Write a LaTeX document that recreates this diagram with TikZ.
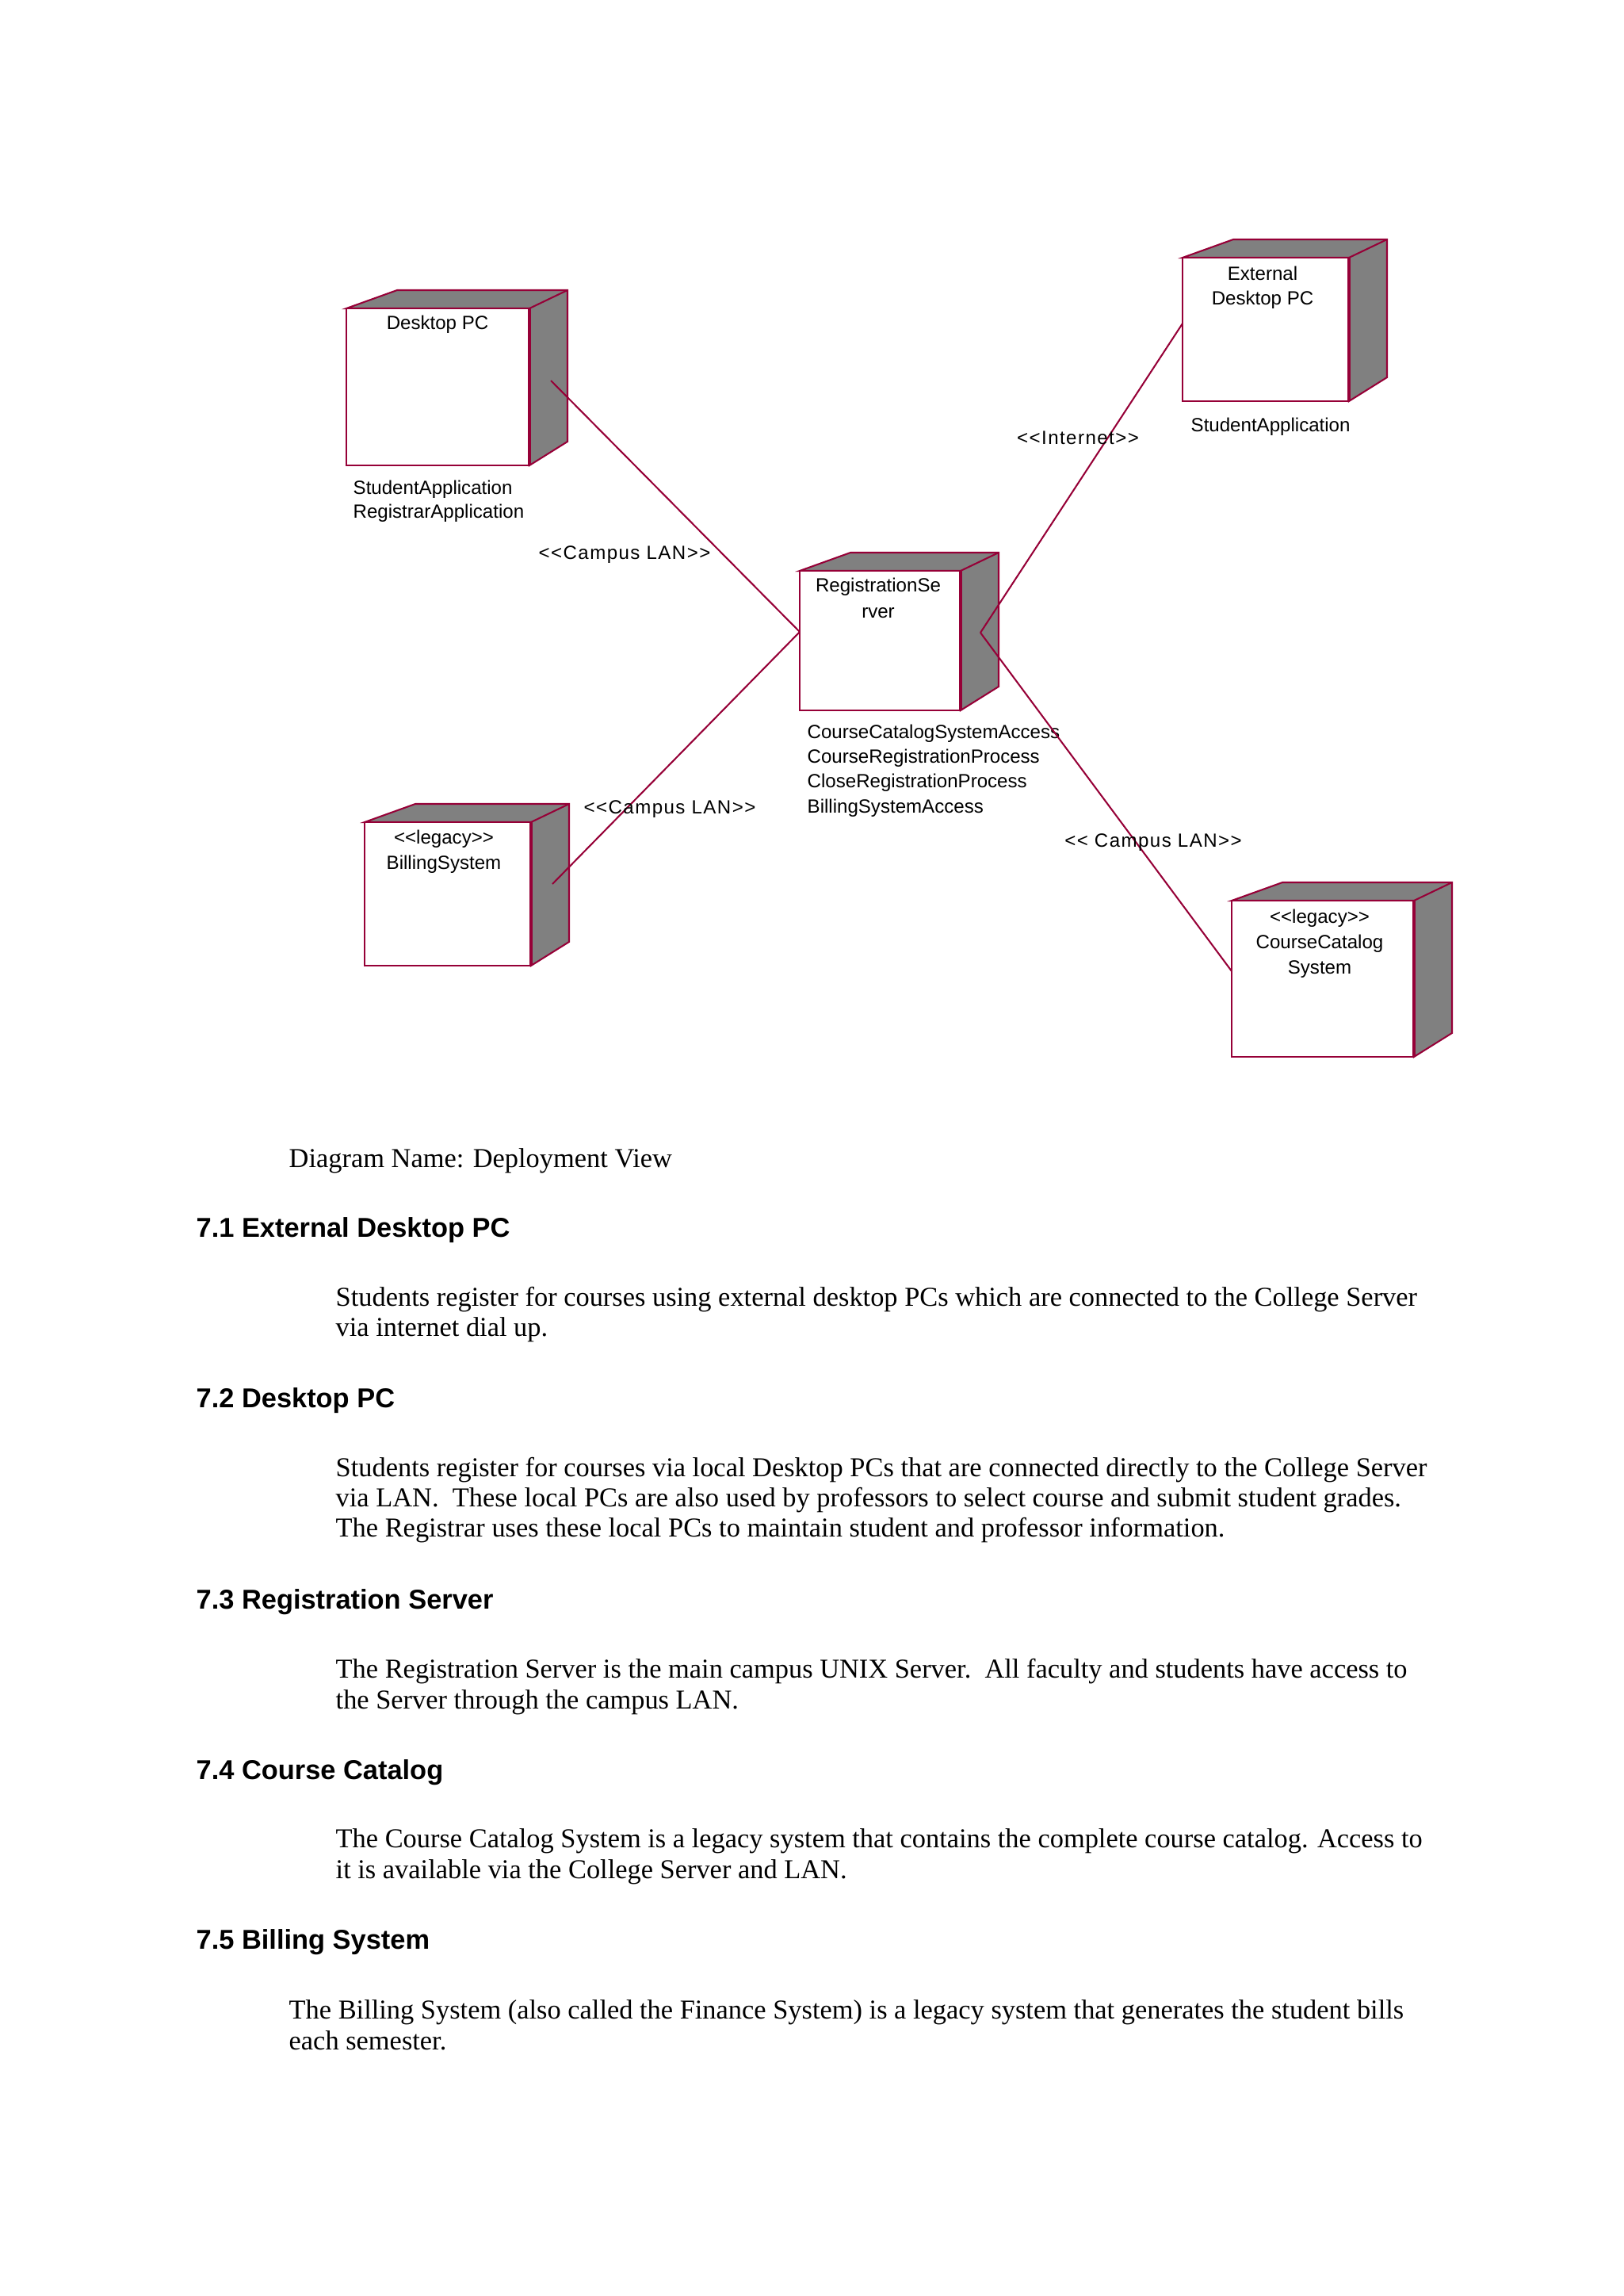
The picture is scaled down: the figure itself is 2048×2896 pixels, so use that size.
\documentclass[tikz,border=0pt]{standalone}
\usepackage{fontspec}
\setmainfont{Liberation Serif}
\newfontfamily\diagfont{Liberation Sans}
\newfontfamily\diagwide[LetterSpace=6]{Liberation Sans}
\newfontfamily\headfont{Liberation Sans}
\usetikzlibrary{fit,calc}
\definecolor{crim}{RGB}{150,0,55}
\definecolor{cubegray}{RGB}{128,128,128}
\newcommand\cubenode[5]{%
  \node[fit={(#2,#3) (#4,#5)}, inner sep=0pt, outer sep=0pt] (#1) {};
  \filldraw[fill=cubegray, draw=crim, line width=0.6pt]
    (#1.north west) -- ++(64,-23) -- ($(#1.north east)+(48,-23)$) -- ($(#1.south east)+(48,-30)$) -- (#1.south east) -- (#1.north east) -- cycle;
  \draw[crim, line width=0.6pt] (#1.north east) -- ++(48,-23);
  \filldraw[fill=white, draw=crim, line width=0.6pt] (#1.north west) rectangle (#1.south east);
  \draw[crim, line width=1.2pt] (#1.north east) -- (#1.south east);
}
\begin{document}
\begin{tikzpicture}[x=0.29066pt, y=-0.29066pt,
  dtext/.style={font=\diagfont\fontsize{7}{8}\selectfont, inner sep=0pt, text=black},
  dleft/.style={dtext, anchor=west},
  llabel/.style={font=\diagwide\fontsize{7}{8}\selectfont, inner sep=0pt, text=black},
  body/.style={font=\fontsize{10}{12}\selectfont, anchor=base west, inner sep=0pt},
  head/.style={font=\headfont\bfseries\fontsize{10}{12}\selectfont, anchor=base west, inner sep=0pt},
  link/.style={draw=crim, line width=0.6pt}]
\useasboundingbox (0,0) rectangle (2048,2896);
\fill[white] (0,0) rectangle (2048,2896);

% nodes
\cubenode{dpc}{437}{389}{668}{587}
\cubenode{srv}{1009}{720}{1212}{896}
\cubenode{ext}{1492}{325}{1702}{506}
\cubenode{bil}{460}{1037}{670}{1218}
\cubenode{cat}{1554}{1136}{1784}{1333}

% node texts
\node[dtext] (dpcT) at (552,409) {Desktop PC};
\node[dleft] (dpcA) at (445,617) {StudentApplication};
\node[dleft] (dpcB) at (445,647) {RegistrarApplication};

\node[dtext] (extT1) at (1593,345) {External};
\node[dtext] (extT2) at (1593,378) {Desktop PC};
\node[dleft] (extA) at (1502,538) {StudentApplication};

\node[dtext] (srvT1) at (1108,740) {RegistrationSe};
\node[dtext] (srvT2) at (1108,773) {rver};
\node[dleft] (srvA) at (1018,925) {CourseCatalogSystemAccess};
\node[dleft] (srvB) at (1018,956) {CourseRegistrationProcess};
\node[dleft] (srvC) at (1018,987) {CloseRegistrationProcess};
\node[dleft] (srvD) at (1018,1019) {BillingSystemAccess};

\node[dtext] (bilT1) at (560,1058) {{<}{<}legacy{>}{>}};
\node[dtext] (bilT2) at (560,1090) {BillingSystem};

\node[dtext] (catT1) at (1665,1158) {{<}{<}legacy{>}{>}};
\node[dtext] (catT2) at (1665,1190) {CourseCatalog};
\node[dtext] (catT3) at (1665,1223) {System};

% connector end points
\coordinate (dpcP) at (695,480);
\coordinate (bilP) at (697,1115);
\coordinate (srvL) at (1009,797);
\coordinate (srvR) at (1237,798);
\coordinate (extP) at (1492,408);
\coordinate (catP) at (1554,1225);

\draw[link] (dpcP) -- (srvL);
\draw[link] (bilP) -- (srvL);
\draw[link] (extP) -- (srvR);
\draw[link] (catP) -- (srvR);

% connector labels
\node[llabel] (l1) at (788,700) {{<}{<}Campus LAN{>}{>}};
\node[llabel] (l2) at (1360,552) {{<}{<}Internet{>}{>}};
\node[llabel] (l3) at (845,1021) {{<}{<}Campus LAN{>}{>}};
\node[llabel] (l4) at (1455,1063) {{<}{<} Campus LAN{>}{>}};

% document text
\node[body] (cap) at (364,1472) {Diagram Name: Deployment View};

\node[head] (h1) at (247,1560) {7.1 External Desktop PC};
\node[body] (p1a) at (423,1647) {Students register for courses using external desktop PCs which are connected to the College Server};
\node[body] (p1b) at (423,1685) {via internet dial up.};

\node[head] (h2) at (247,1775) {7.2 Desktop PC};
\node[body] (p2a) at (423,1862) {Students register for courses via local Desktop PCs that are connected directly to the College Server};
\node[body] (p2b) at (423,1900) {via LAN.\ \ These local PCs are also used by professors to select course and submit student grades.};
\node[body] (p2c) at (423,1938) {The Registrar uses these local PCs to maintain student and professor information.};

\node[head] (h3) at (247,2029) {7.3 Registration Server};
\node[body] (p3a) at (423,2116) {The Registration Server is the main campus UNIX Server.\ \ All faculty and students have access to};
\node[body] (p3b) at (423,2155) {the Server through the campus LAN.};

\node[head] (h4) at (247,2244) {7.4 Course Catalog};
\node[body] (p4a) at (423,2330) {The Course Catalog System is a legacy system that contains the complete course catalog. Access to};
\node[body] (p4b) at (423,2369) {it is available via the College Server and LAN.};

\node[head] (h5) at (247,2458) {7.5 Billing System};
\node[body] (p5a) at (364,2546) {The Billing System (also called the Finance System) is a legacy system that generates the student bills};
\node[body] (p5b) at (364,2585) {each semester.};
\end{tikzpicture}
\end{document}
